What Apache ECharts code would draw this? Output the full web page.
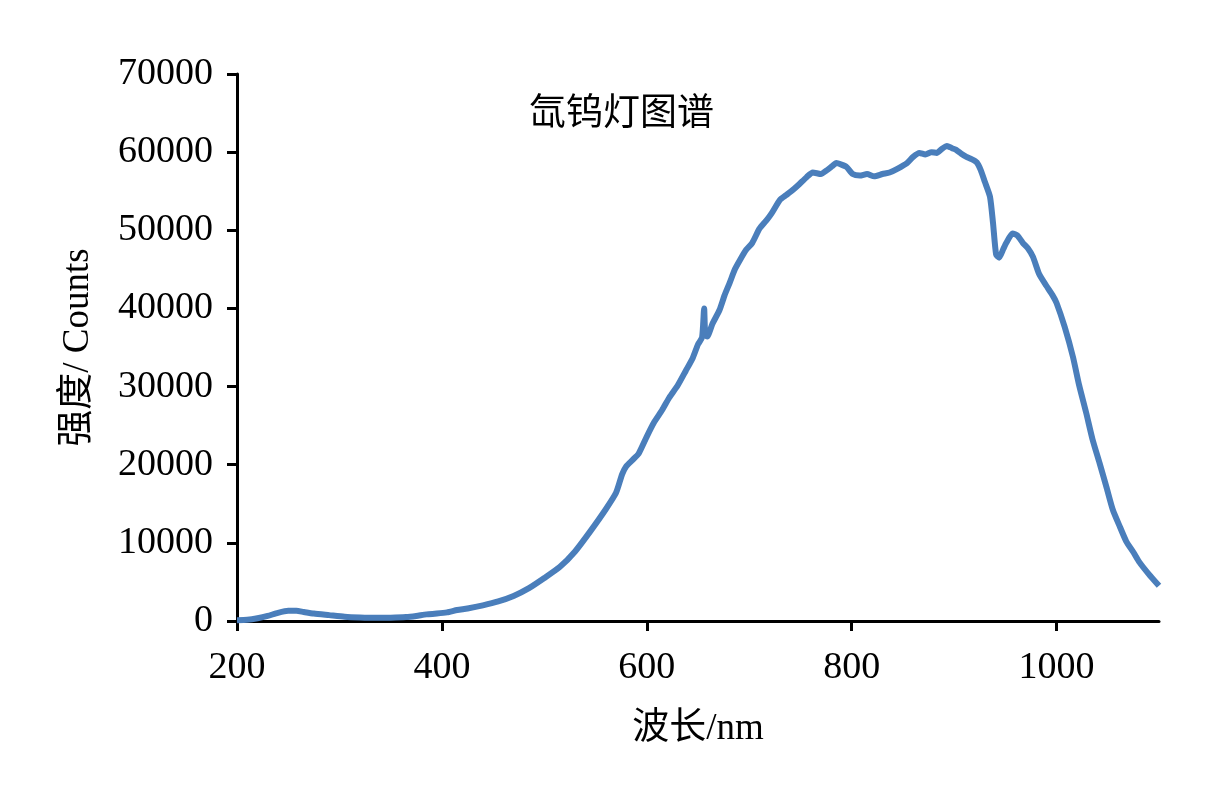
<!DOCTYPE html>
<html>
<head>
<meta charset="utf-8">
<title>氙钨灯图谱</title>
<script src="https://cdn.jsdelivr.net/npm/echarts@6/dist/echarts.min.js"></script>
<style>
    html, body { margin: 0; padding: 0; background: #fff; }
    #container01 { width: 1224px; height: 809px; }
</style>
</head>
<body>
<div id="container01"></div>
<script>
// 波长 (nm)
const wavelength = [
    200, 210, 220, 230, 240, 250, 258, 265, 275, 290, 305, 320, 335, 350, 365, 375, 385, 395, 405, 415,
    425, 440, 455, 470, 485, 500, 515, 530, 545, 560, 570, 576, 580, 586, 592, 600, 607, 615, 622, 630,
    638, 645, 650, 654, 656, 657, 659, 664, 671, 676, 681, 686, 691, 697, 703, 710, 717, 722, 730, 736,
    742, 748, 756, 762, 770, 776, 781, 785, 790, 795, 801, 808, 815, 822, 830, 837, 845, 854, 860, 866,
    872, 878, 883, 888, 893, 898, 902, 907, 912, 917, 922, 926, 930, 935, 938, 941, 944, 948, 951, 957,
    962, 967, 972, 977, 983, 990, 996, 1000, 1008, 1016, 1022, 1029, 1035, 1042, 1049, 1055, 1062, 1068, 1075, 1081,
    1090, 1100
];
// 强度 (Counts)
const counts = [
    100, 150, 350, 650, 1050, 1300, 1300, 1150, 950, 750, 550, 450, 400, 420, 500, 650, 850, 950, 1100, 1400,
    1600, 2000, 2500, 3200, 4200, 5500, 6900, 8900, 11500, 14300, 16400, 18800, 19800, 20600, 21400, 23600, 25400, 27000, 28600, 30100,
    32000, 33700, 35400, 36300, 40000, 36800, 36400, 38000, 39800, 41700, 43300, 45000, 46200, 47500, 48400, 50200, 51300, 52200, 53900, 54500,
    55100, 55800, 56800, 57400, 57200, 57700, 58200, 58600, 58400, 58100, 57200, 57000, 57200, 56900, 57200, 57400, 57900, 58600, 59400, 59900,
    59700, 60000, 59900, 60400, 60800, 60500, 60300, 59800, 59400, 59100, 58700, 57700, 56200, 54300, 50900, 46900, 46500, 47600, 48400, 49600,
    49300, 48400, 47700, 46600, 44400, 42900, 41700, 40700, 37600, 33800, 30200, 26600, 23300, 20200, 17000, 14200, 12000, 10200, 8800, 7500,
    6000, 4500
];
// y轴刻度
const yTicks = [0, 10000, 20000, 30000, 40000, 50000, 60000, 70000];
// x轴刻度
const xTicks = [200, 400, 600, 800, 1000];

const seriesData = wavelength.map((w, i) => [w, counts[i]]);

const serif = '"Liberation Serif", "Times New Roman", "Noto Sans CJK SC", serif';

const myChart = echarts.init(document.getElementById('container01'), null, { renderer: 'canvas' });

const option = {
    backgroundColor: '#ffffff',
    animation: false,
    title: {
        text: '氙钨灯图谱',
        left: 524,
        top: 92,
        textStyle: { fontFamily: serif, fontSize: 37, fontWeight: 'normal', color: '#000' }
    },
    grid: { left: 237, right: 65, top: 74, bottom: 188 },
    xAxis: {
        type: 'value',
        min: xTicks[0],
        max: 1100,
        interval: 200,
        name: '波长/nm',
        nameLocation: 'middle',
        nameGap: 90,
        nameTextStyle: { fontFamily: serif, fontSize: 37, color: '#000' },
        axisLine: { show: true, onZero: false, lineStyle: { color: '#000', width: 3 } },
        axisTick: { show: true, inside: false, length: 10, lineStyle: { color: '#000', width: 3 } },
        axisLabel: {
            fontFamily: serif, fontSize: 38, color: '#000', margin: 28,
            showMaxLabel: false,
            formatter: v => (xTicks.includes(v) ? String(v) : '')
        },
        splitLine: { show: false }
    },
    yAxis: {
        type: 'value',
        min: yTicks[0],
        max: yTicks[yTicks.length - 1],
        interval: 10000,
        name: '强度/ Counts',
        nameLocation: 'middle',
        nameGap: 140,
        nameTextStyle: { fontFamily: serif, fontSize: 37, color: '#000' },
        axisLine: { show: true, lineStyle: { color: '#000', width: 3 } },
        axisTick: { show: true, inside: false, length: 10, lineStyle: { color: '#000', width: 3 } },
        axisLabel: { fontFamily: serif, fontSize: 38, color: '#000', margin: 24, formatter: v => String(v) },
        splitLine: { show: false }
    },
    series: [
        {
            type: 'line',
            data: seriesData,
            showSymbol: false,
            smooth: 0.2,
            clip: true,
            lineStyle: { color: '#4a7ebb', width: 6 }
        }
    ]
};

myChart.setOption(option);
window.addEventListener('resize', myChart.resize);
</script>
</body>
</html>
